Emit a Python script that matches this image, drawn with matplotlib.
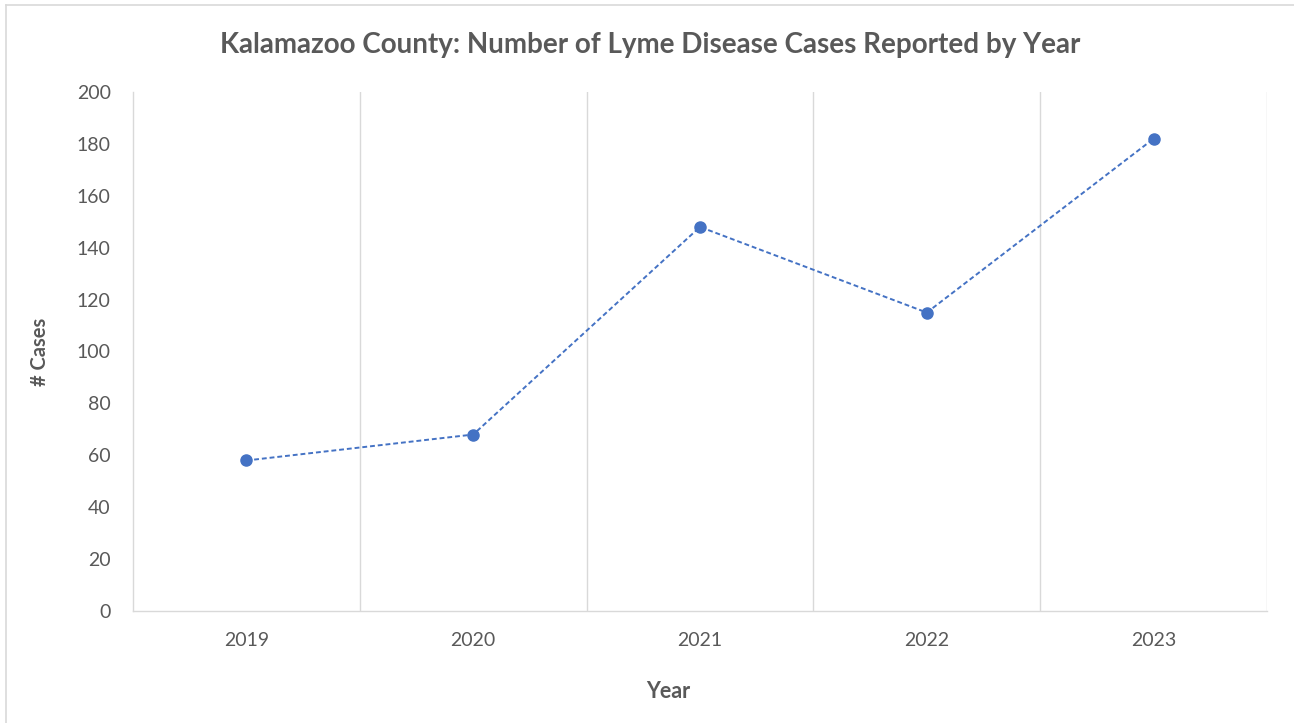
import matplotlib.pyplot as plt
from matplotlib.lines import Line2D

years = ["2019", "2020", "2021", "2022", "2023"]
cases = [58, 68, 148, 115, 182]
yticks = [0, 20, 40, 60, 80, 100, 120, 140, 160, 180, 200]

plt.rcParams['font.family'] = ['Lato', 'DejaVu Sans']

W, H = 1294, 723
fig = plt.figure(figsize=(W / 100, H / 100), dpi=100)
ax = fig.add_axes([133 / W, 1 - 611 / H, (1267 - 133) / W, (611 - 92) / H])

x = list(range(len(years)))
ax.plot(x, cases, color='#4472C4', linestyle=(0, (2.5, 1.5)), linewidth=1.4,
        marker='o', markersize=8, markerfacecolor='#4472C4',
        markeredgecolor='#4472C4', zorder=3)

ax.set_xlim(-0.5, len(years) - 0.5)
ax.set_ylim(0, 200)
ax.set_yticks(yticks)
ax.set_xticks(x)
ax.set_xticklabels(years)

grid_color = '#d9d9d9'
for b in [i + 0.5 for i in range(len(years))]:
    ax.axvline(b, color=grid_color, linewidth=1.0, zorder=1)

for s in ['top', 'right']:
    ax.spines[s].set_visible(False)
for s in ['left', 'bottom']:
    ax.spines[s].set_color(grid_color)
    ax.spines[s].set_linewidth(1.0)

ax.tick_params(axis='both', length=0, labelsize=14, colors='#595959')
ax.tick_params(axis='y', pad=16)
ax.tick_params(axis='x', pad=15)

ax.set_xlabel('Year', fontsize=15.5, fontweight='bold', color='#595959', labelpad=24)
ax.xaxis.set_label_coords(0.472, -0.135)
ax.set_ylabel('# Cases', fontsize=14.5, fontweight='bold', color='#595959', labelpad=19)

fig.text(650 / W, 1 - 45 / H, 'Kalamazoo County: Number of Lyme Disease Cases Reported by Year',
         ha='center', va='center', fontsize=20, fontweight='bold', color='#595959')

# outer chart border
fig.add_artist(Line2D([6 / W, 6 / W], [0, 1 - 5 / H], transform=fig.transFigure,
                      color='#d9d9d9', linewidth=1.2))
fig.add_artist(Line2D([6 / W, 1], [1 - 5 / H, 1 - 5 / H], transform=fig.transFigure,
                      color='#d9d9d9', linewidth=1.2))

fig.savefig('out.png', dpi=100)
